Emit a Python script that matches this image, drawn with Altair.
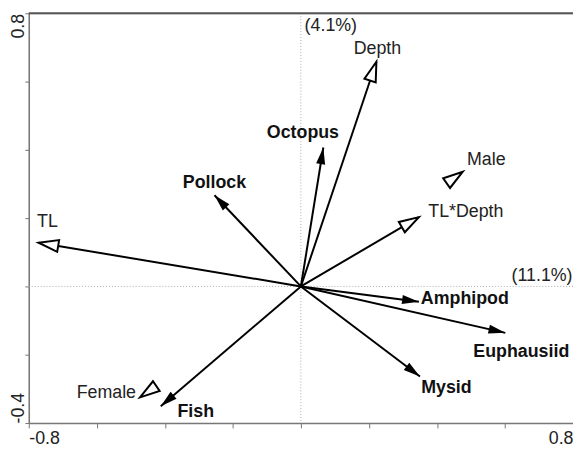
import altair as alt
import pandas as pd

# Species (response variables) - filled arrowheads, bold labels
sp_name = ["Octopus", "Pollock", "Amphipod", "Euphausiid", "Mysid", "Fish"]
sp_x = [0.066, -0.254, 0.347, 0.601, 0.350, -0.412]
sp_y = [0.407, 0.267, -0.045, -0.136, -0.264, -0.351]
sp_lx = [0.006, -0.254, 0.482, 0.648, 0.428, -0.309]
sp_ly = [0.449, 0.304, -0.038, -0.191, -0.299, -0.368]

# Explanatory variables - open arrowheads
env_name = ["Depth", "TL", "TL*Depth"]
env_x = [0.222, -0.771, 0.347]
env_y = [0.658, 0.128, 0.203]
env_lx = [0.225, -0.745, 0.485]
env_ly = [0.696, 0.188, 0.217]

# Nominal variable centroids - open triangles, no line
cen_name = ["Male", "Female"]
cen_x = [0.476, -0.473]
cen_y = [0.336, -0.325]
cen_lx = [0.545, -0.572]
cen_ly = [0.371, -0.313]

# Axis explained-variance annotations
pct_text = ["(4.1%)", "(11.1%)"]
pct_x = [0.088, 0.709]
pct_y = [0.762, 0.029]

x_ticks = [-0.8, -0.6, -0.4, -0.2, 0.0, 0.2, 0.4, 0.6, 0.8]
y_ticks = [-0.4, -0.2, 0.0, 0.2, 0.4, 0.6, 0.8]

FONT = "Liberation Sans"
FS = 18
HEAD_FILLED = "M0,0 L0.27,1 L-0.27,1 Z"
HEAD_OPEN = "M0,0 L0.3,1 L-0.3,1 Z"

sp = pd.DataFrame({"name": sp_name, "x": sp_x, "y": sp_y, "lx": sp_lx, "ly": sp_ly})
env = pd.DataFrame({"name": env_name, "x": env_x, "y": env_y, "lx": env_lx, "ly": env_ly})
cen = pd.DataFrame({"name": cen_name, "x": cen_x, "y": cen_y, "lx": cen_lx, "ly": cen_ly})
pct = pd.DataFrame({"text": pct_text, "x": pct_x, "y": pct_y})
zero = pd.DataFrame({"v": [0.0]})
top = pd.DataFrame({"v": [max(y_ticks)]})

xs = alt.Scale(domain=[min(x_ticks), max(x_ticks)], nice=False, zero=False)
ys = alt.Scale(domain=[min(y_ticks), max(y_ticks)], nice=False, zero=False)

LBL = "(datum.value < 0 ? '-' : '') + format(abs(datum.value), '.1f')"

xaxis = alt.Axis(values=x_ticks, title=None, grid=False,
                 labelExpr="abs(datum.value) > 0.79 ? " + LBL + " : ''",
                 labelFlush=True, tickSize=5, labelPadding=2)
yaxis = alt.Axis(values=y_ticks, title=None, grid=False,
                 labelExpr="(datum.value < -0.39 || datum.value > 0.79) ? " + LBL + " : ''",
                 labelAngle=270, labelFlush=False,
                 labelAlign={"condition": {"test": "datum.value > 0", "value": "right"}, "value": "left"},
                 labelBaseline="alphabetic", tickSize=4, labelPadding=1)

ang = "(atan2(datum.x, datum.y) * 180 / PI + 360) % 360"

vline = alt.Chart(zero).mark_rule(color="#aaaaaa", strokeDash=[1, 2], strokeWidth=1).encode(
    x=alt.X("v:Q", scale=xs, axis=xaxis))
hline = alt.Chart(zero).mark_rule(color="#aaaaaa", strokeDash=[1, 2], strokeWidth=1).encode(
    y=alt.Y("v:Q", scale=ys, axis=yaxis))
top_frame = alt.Chart(top).mark_rule(color="#555555", strokeWidth=2).encode(
    y=alt.Y("v:Q", scale=ys, axis=yaxis))

def shafts(df):
    return alt.Chart(df).transform_calculate(x0="0", y0="0").mark_rule(
        color="black", strokeWidth=2).encode(
        x=alt.X("x0:Q", scale=xs, axis=xaxis), y=alt.Y("y0:Q", scale=ys, axis=yaxis),
        x2="x:Q", y2="y:Q")

sp_lines = shafts(sp)
env_lines = shafts(env)

sp_heads = alt.Chart(sp).transform_calculate(ang=ang).mark_point(
    shape=HEAD_FILLED, filled=True, color="black", size=1156, opacity=1).encode(
    x=alt.X("x:Q", scale=xs, axis=xaxis), y=alt.Y("y:Q", scale=ys, axis=yaxis),
    angle=alt.Angle("ang:Q", scale=None))

open_df = pd.concat([env, cen], ignore_index=True)
open_heads = alt.Chart(open_df).transform_calculate(ang=ang).mark_point(
    shape=HEAD_OPEN, filled=True, fill="white", stroke="black", strokeWidth=2,
    size=1600, opacity=1).encode(
    x=alt.X("x:Q", scale=xs, axis=xaxis), y=alt.Y("y:Q", scale=ys, axis=yaxis),
    angle=alt.Angle("ang:Q", scale=None))

sp_text = alt.Chart(sp).mark_text(font=FONT, fontSize=FS, fontWeight="bold", color="#111111",
                                  baseline="middle", align="center").encode(
    x=alt.X("lx:Q", scale=xs, axis=xaxis), y=alt.Y("ly:Q", scale=ys, axis=yaxis), text="name:N")

other_text = alt.Chart(open_df).mark_text(font=FONT, fontSize=FS, color="#222222",
                                          baseline="middle", align="center").encode(
    x=alt.X("lx:Q", scale=xs, axis=xaxis), y=alt.Y("ly:Q", scale=ys, axis=yaxis), text="name:N")

pct_marks = alt.Chart(pct).mark_text(font=FONT, fontSize=FS, color="#222222",
                                     baseline="middle", align="center").encode(
    x=alt.X("x:Q", scale=xs, axis=xaxis), y=alt.Y("y:Q", scale=ys, axis=yaxis), text="text:N")

chart = alt.layer(vline, hline, top_frame, sp_lines, env_lines, sp_heads, open_heads,
                  sp_text, other_text, pct_marks).properties(
    width=550, height=414,
    padding={"left": 21, "top": 3, "right": 0, "bottom": 30},
    autosize=alt.AutoSizeParams(type="none"),
).configure_view(stroke="#bbbbbb", strokeWidth=1).configure_axis(
    domainColor="#777777", domainWidth=1.5, tickColor="#777777", tickWidth=1,
    labelColor="#222222", labelFont=FONT, labelFontSize=FS,
)

chart.save("out.html", embed_options={"renderer": "svg", "actions": False})
